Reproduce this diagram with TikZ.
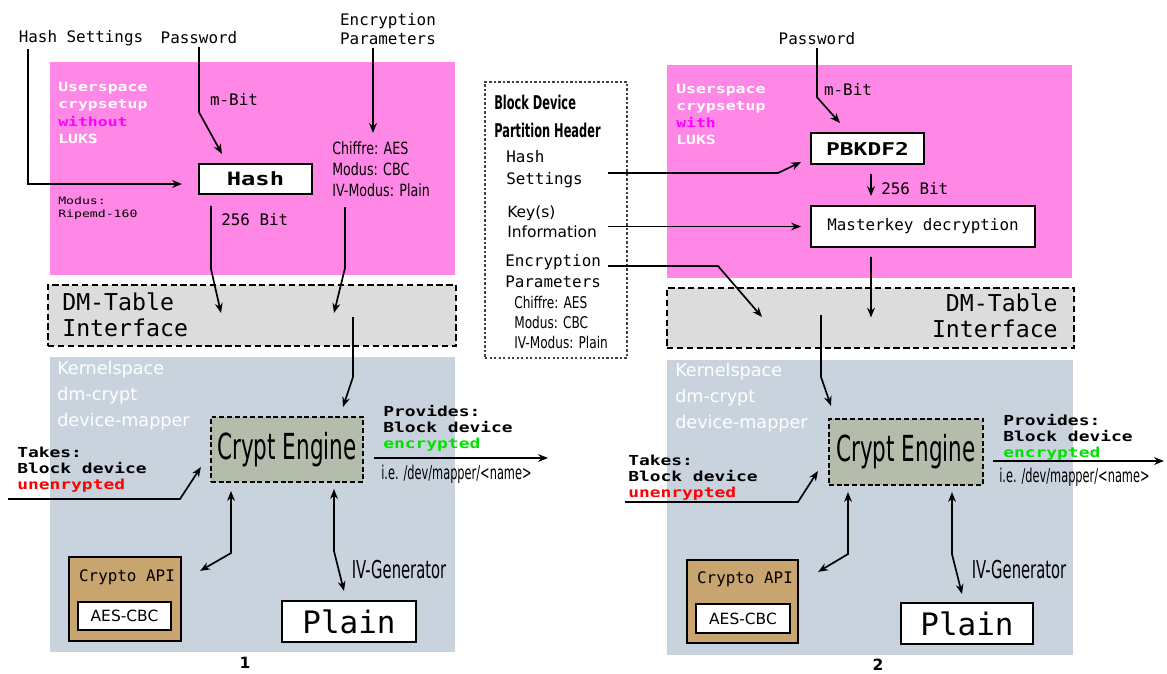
\documentclass[tikz,border=0pt]{standalone}
\usepackage{fontspec}
\setmainfont{DejaVu Sans}
\newfontfamily\dvmono{DejaVu Sans Mono}
\newfontfamily\dvwide[FakeStretch=1.3]{DejaVu Sans Mono}
\newfontfamily\dvnarrow[FakeStretch=0.6]{DejaVu Sans}
\newfontfamily\dvsemi[FakeStretch=0.75]{DejaVu Sans}
\usetikzlibrary{arrows.meta,positioning}
\usepackage{xcolor}
\newlength\px \setlength\px{0.025cm}
\newcommand\fsz[2]{\fontsize{#1}{#2}\selectfont}
\definecolor{userpink}{RGB}{255,136,230}
\definecolor{dmgray}{RGB}{220,220,220}
\definecolor{kernblue}{RGB}{200,211,221}
\definecolor{cryptgray}{RGB}{180,188,172}
\definecolor{apitan}{RGB}{200,164,110}
\definecolor{withmag}{RGB}{255,0,255}
\definecolor{encgreen}{RGB}{0,225,0}

\begin{document}
\begin{tikzpicture}[x=0.025cm, y=-0.025cm,
    region/.style={draw=none, inner sep=0},
    box/.style={draw, line width=1.4pt, fill=white, inner sep=0},
    dmbox/.style={draw, fill=dmgray, line width=1.5pt, dash pattern=on 4.5pt off 2.5pt, inner sep=0},
    engine/.style={draw, fill=cryptgray, line width=1.5pt, dash pattern=on 3.5pt off 2pt, inner sep=0, font={\dvnarrow\fsz{25.5}{28}}},
    apibox/.style={draw, fill=apitan, line width=1.6pt, inner sep=0},
    hdrbox/.style={draw=black!75, line width=0.8pt, dash pattern=on 1.6pt off 1.6pt, inner sep=0},
    lbl/.style={font={\dvmono\fsz{11.3}{14}}, inner sep=2pt, align=center},
    usertxt/.style={anchor=west, inner sep=0, align=left, text=white, font={\dvwide\bfseries\fsz{9}{12.3}}},
    kerntxt/.style={anchor=west, inner sep=0, align=left, text=white, font={\fsz{12.5}{18.5}}},
    dmtxt/.style={inner sep=0, font={\dvmono\fsz{16.5}{18.5}}},
    iotxt/.style={anchor=west, inner sep=0, align=left, font={\dvwide\bfseries\fsz{9.8}{11.4}}},
    condtxt/.style={anchor=west, inner sep=0, align=left, font={\dvsemi\fsz{12}{15}}},
    arr/.style={line width=1.2pt, -{Stealth[length=7pt,width=5.5pt]}},
    darr/.style={line width=1.2pt, {Stealth[length=7pt,width=5.5pt]}-{Stealth[length=7pt,width=5.5pt]}}]
    \useasboundingbox (0,0) rectangle (1167,673);

    % Bild 1: crypsetup ohne LUKS
    \node[region, fill=userpink, minimum width=405\px, minimum height=213\px] (user1) at (252.5,168.5) {};
    \node[dmbox, minimum width=408\px, minimum height=61\px] (dm1) at (252,315.5) {};
    \node[region, fill=kernblue, minimum width=405\px, minimum height=295\px] (kern1) at (252.5,504.5) {};
    \node[box, minimum width=113\px, minimum height=30\px, font={\dvwide\bfseries\fsz{13}{15}}] (hash) at (255.5,179) {Hash};
    \node[engine, minimum width=152\px, minimum height=65\px] (crypt1) at (287,449.5) {Crypt Engine};
    \node[apibox, minimum width=112\px, minimum height=84\px] (api1) at (125,599) {};
    \node[lbl] (api1txt) at (127,577) {Crypto API};
    \node[box, minimum width=93\px, minimum height=28\px, font={\fsz{11}{13}}] (aes1) at (124.5,616) {AES-CBC};
    \node[box, minimum width=134\px, minimum height=41\px, font={\dvmono\fsz{22}{24}}] (plain1) at (349,621.5) {Plain};

    \node[lbl] (hashset) at (81,38) {Hash Settings};
    \node[lbl] (pw1) at (199,38) {Password};
    \node[lbl] (enc1) at (388,29) {Encryption\\Parameters};
    \node[lbl] (mbit1) at (234,99) {m-Bit};
    \node[lbl, anchor=west, inner sep=0] (bit1) at (221,220) {256 Bit};
    \node[usertxt] (user1txt) at (58,113) {Userspace\\crypsetup\\\textcolor{withmag}{without}\\LUKS};
    \node[anchor=west, inner sep=0, align=left, font={\dvwide\fsz{7.2}{9.2}}] (modus1) at (58,208.5) {Modus:\\Ripemd-160};
    \node[condtxt] (chif1) at (332,169) {Chiffre: AES\\Modus: CBC\\IV-Modus: Plain};
    \node[dmtxt, anchor=west, align=left] (dm1txt) at (62,315) {DM-Table\\Interface};
    \node[kerntxt] (kern1txt) at (57,396) {Kernelspace\\dm-crypt\\device-mapper};
    \node[iotxt] (prov1) at (383,428.5) {Provides:\\Block device\\\textcolor{encgreen}{encrypted}};
    \node[anchor=west, inner sep=0, font={\dvnarrow\fsz{13.5}{15}}] (ie1) at (381,474) {i.e. /dev/mapper/<name>};
    \node[iotxt] (takes1) at (17,469.5) {Takes:\\Block device\\\textcolor{red}{unenrypted}};
    \node[inner sep=0, font={\dvnarrow\fsz{17.5}{20}}] (ivg1) at (399,570) {IV-Generator};
    \node[inner sep=0, font={\bfseries\fsz{11}{13}}] (num1) at (245,663) {1};
    \coordinate (out1) at (548,458);
    \coordinate (in1) at (8,499);

    % Block Device Partition Header
    \node[hdrbox, minimum width=142\px, minimum height=276\px] (hdr) at (556,220) {};
    \node[anchor=west, inner sep=0, align=left, font={\dvnarrow\bfseries\fsz{13.5}{20}}] (hdrtxt) at (494,116) {Block Device\\Partition Header};
    \node[lbl, anchor=west, align=left, inner sep=0, font={\dvmono\fsz{11.3}{15.6}}] (hsTxt) at (506,169) {Hash\\Settings};
    \node[anchor=west, inner sep=0, align=left, font={\fsz{11}{14.2}}] (keyTxt) at (507,221.5) {Key(s)\\Information};
    \node[lbl, anchor=west, align=left, inner sep=0, font={\dvmono\fsz{11.3}{15}}] (encTxt) at (505,271.5) {Encryption\\Parameters};
    \node[condtxt, font={\dvsemi\fsz{11.5}{14.2}}] (chifM) at (514,322) {Chiffre: AES\\Modus: CBC\\IV-Modus: Plain};

    % Bild 2: crypsetup mit LUKS
    \node[region, fill=userpink, minimum width=405\px, minimum height=213\px] (user2) at (869.5,171.5) {};
    \node[dmbox, minimum width=407\px, minimum height=60\px] (dm2) at (870.5,318) {};
    \node[region, fill=kernblue, minimum width=406\px, minimum height=295\px] (kern2) at (870,507.5) {};
    \node[box, minimum width=113\px, minimum height=31\px, font={\dvwide\bfseries\fsz{12.5}{15}}] (pbkdf) at (867.5,148.5) {PBKDF2};
    \node[box, minimum width=224\px, minimum height=41\px, font={\dvmono\fsz{11.3}{14}}] (master) at (923,226.5) {Masterkey decryption};
    \node[engine, minimum width=154\px, minimum height=66\px] (crypt2) at (906,452) {Crypt Engine};
    \node[apibox, minimum width=111\px, minimum height=83\px] (api2) at (742.5,601.5) {};
    \node[lbl] (api2txt) at (745,579) {Crypto API};
    \node[box, minimum width=94\px, minimum height=29\px, font={\fsz{11}{13}}] (aes2) at (743,618.5) {AES-CBC};
    \node[box, minimum width=132\px, minimum height=41\px, font={\dvmono\fsz{22}{24}}] (plain2) at (967,623.5) {Plain};

    \node[lbl] (pw2) at (817,39) {Password};
    \node[lbl] (mbit2) at (848,89) {m-Bit};
    \node[lbl, anchor=west, inner sep=0] (bit2) at (881,189) {256 Bit};
    \node[usertxt] (user2txt) at (676,114.5) {Userspace\\crypsetup\\\textcolor{withmag}{with}\\LUKS};
    \node[dmtxt, anchor=east, align=right] (dm2txt) at (1058,316) {DM-Table\\Interface};
    \node[kerntxt] (kern2txt) at (675,398) {Kernelspace\\dm-crypt\\device-mapper};
    \node[iotxt] (prov2) at (1003,437.5) {Provides:\\Block device\\\textcolor{encgreen}{encrypted}};
    \node[anchor=west, inner sep=0, font={\dvnarrow\fsz{13.5}{15}}] (ie2) at (999,477) {i.e. /dev/mapper/<name>};
    \node[iotxt] (takes2) at (628,478) {Takes:\\Block device\\\textcolor{red}{unenrypted}};
    \node[inner sep=0, font={\dvnarrow\fsz{17.5}{20}}] (ivg2) at (1019,570) {IV-Generator};
    \node[inner sep=0, font={\bfseries\fsz{11}{13}}] (num2) at (878,665) {2};
    \coordinate (out2) at (1164,461);
    \coordinate (in2) at (625,502);

    % Verbindungen Bild 1
    \draw[arr] ([xshift=-53\px]hashset.south) |- ([xshift=-16\px,yshift=-5\px]hash.west);
    \draw[arr] (pw1.south) -- ++(0,65) -- ([xshift=-33.5\px,yshift=9\px]hash.north);
    \draw[arr] ([xshift=-15\px]enc1.south) -- ([xshift=41\px,yshift=36\px]chif1.west);
    \draw[arr] ([xshift=-44.5\px,yshift=-11\px]hash.south) -- ++(0,63) -- ([xshift=-31\px,yshift=2.5\px]dm1.center);
    \draw[arr] ([xshift=13\px,yshift=-38\px]chif1.west) -- ++(0,61) -- ([xshift=82\px,yshift=2.5\px]dm1.center);
    \draw[arr] ([xshift=101\px,yshift=-1.5\px]dm1.center) -- ++(0,60) -- ([xshift=56\px,yshift=9\px]crypt1.north);
    \draw[arr] ([xshift=10\px,yshift=-8.5\px]crypt1.east) -- (out1);
    \draw[arr] (in1) -- ++(172,0) -- ([xshift=-9\px,yshift=-17.5\px]crypt1.west);
    \draw[darr] ([xshift=-56\px,yshift=-8\px]crypt1.south) -- ++(0,62) -- ([xshift=18\px,yshift=-15\px]api1.north east);
    \draw[darr] ([xshift=47\px,yshift=-6\px]crypt1.south) -- ++(0,62) -- ([xshift=-5\px,yshift=9\px]plain1.north);

    % Verbindungen Header
    \draw[arr] ([xshift=102\px,yshift=-4\px]hsTxt.west) -- ++(170,0) -- ([xshift=-9\px,yshift=-13.5\px]pbkdf.west);
    \draw[arr] ([xshift=101\px,yshift=-5\px]keyTxt.west) -- ([xshift=-9\px]master.west);
    \draw[arr] ([xshift=103\px,yshift=5.5\px]encTxt.west) -- ++(110,0) -- ([xshift=-108.5\px,yshift=1\px]dm2.center);

    % Verbindungen Bild 2
    \draw[arr] (pw2.south) -- ++(0,49) -- ([xshift=-27.5\px,yshift=9\px]pbkdf.north);
    \draw[arr] ([xshift=3.5\px,yshift=-9\px]pbkdf.south) -- ([xshift=-52\px,yshift=9\px]master.north);
    \draw[arr] ([xshift=-52\px,yshift=-9\px]master.south) -- ([xshift=0.5\px,yshift=0.5\px]dm2.center);
    \draw[arr] ([xshift=-49.5\px,yshift=3\px]dm2.center) -- ++(0,62) -- ([xshift=-75\px,yshift=12\px]crypt2.north);
    \draw[arr] ([xshift=9\px,yshift=-9\px]crypt2.east) -- (out2);
    \draw[arr] (in2) -- ++(173,0) -- ([xshift=-10\px,yshift=-19\px]crypt2.west);
    \draw[darr] ([xshift=-58\px,yshift=-6\px]crypt2.south) -- ++(0,62) -- ([xshift=19\px,yshift=-13\px]api2.north east);
    \draw[darr] ([xshift=46\px,yshift=-6\px]crypt2.south) -- ++(0,62) -- ([xshift=-5\px,yshift=8\px]plain2.north);
\end{tikzpicture}
\end{document}
